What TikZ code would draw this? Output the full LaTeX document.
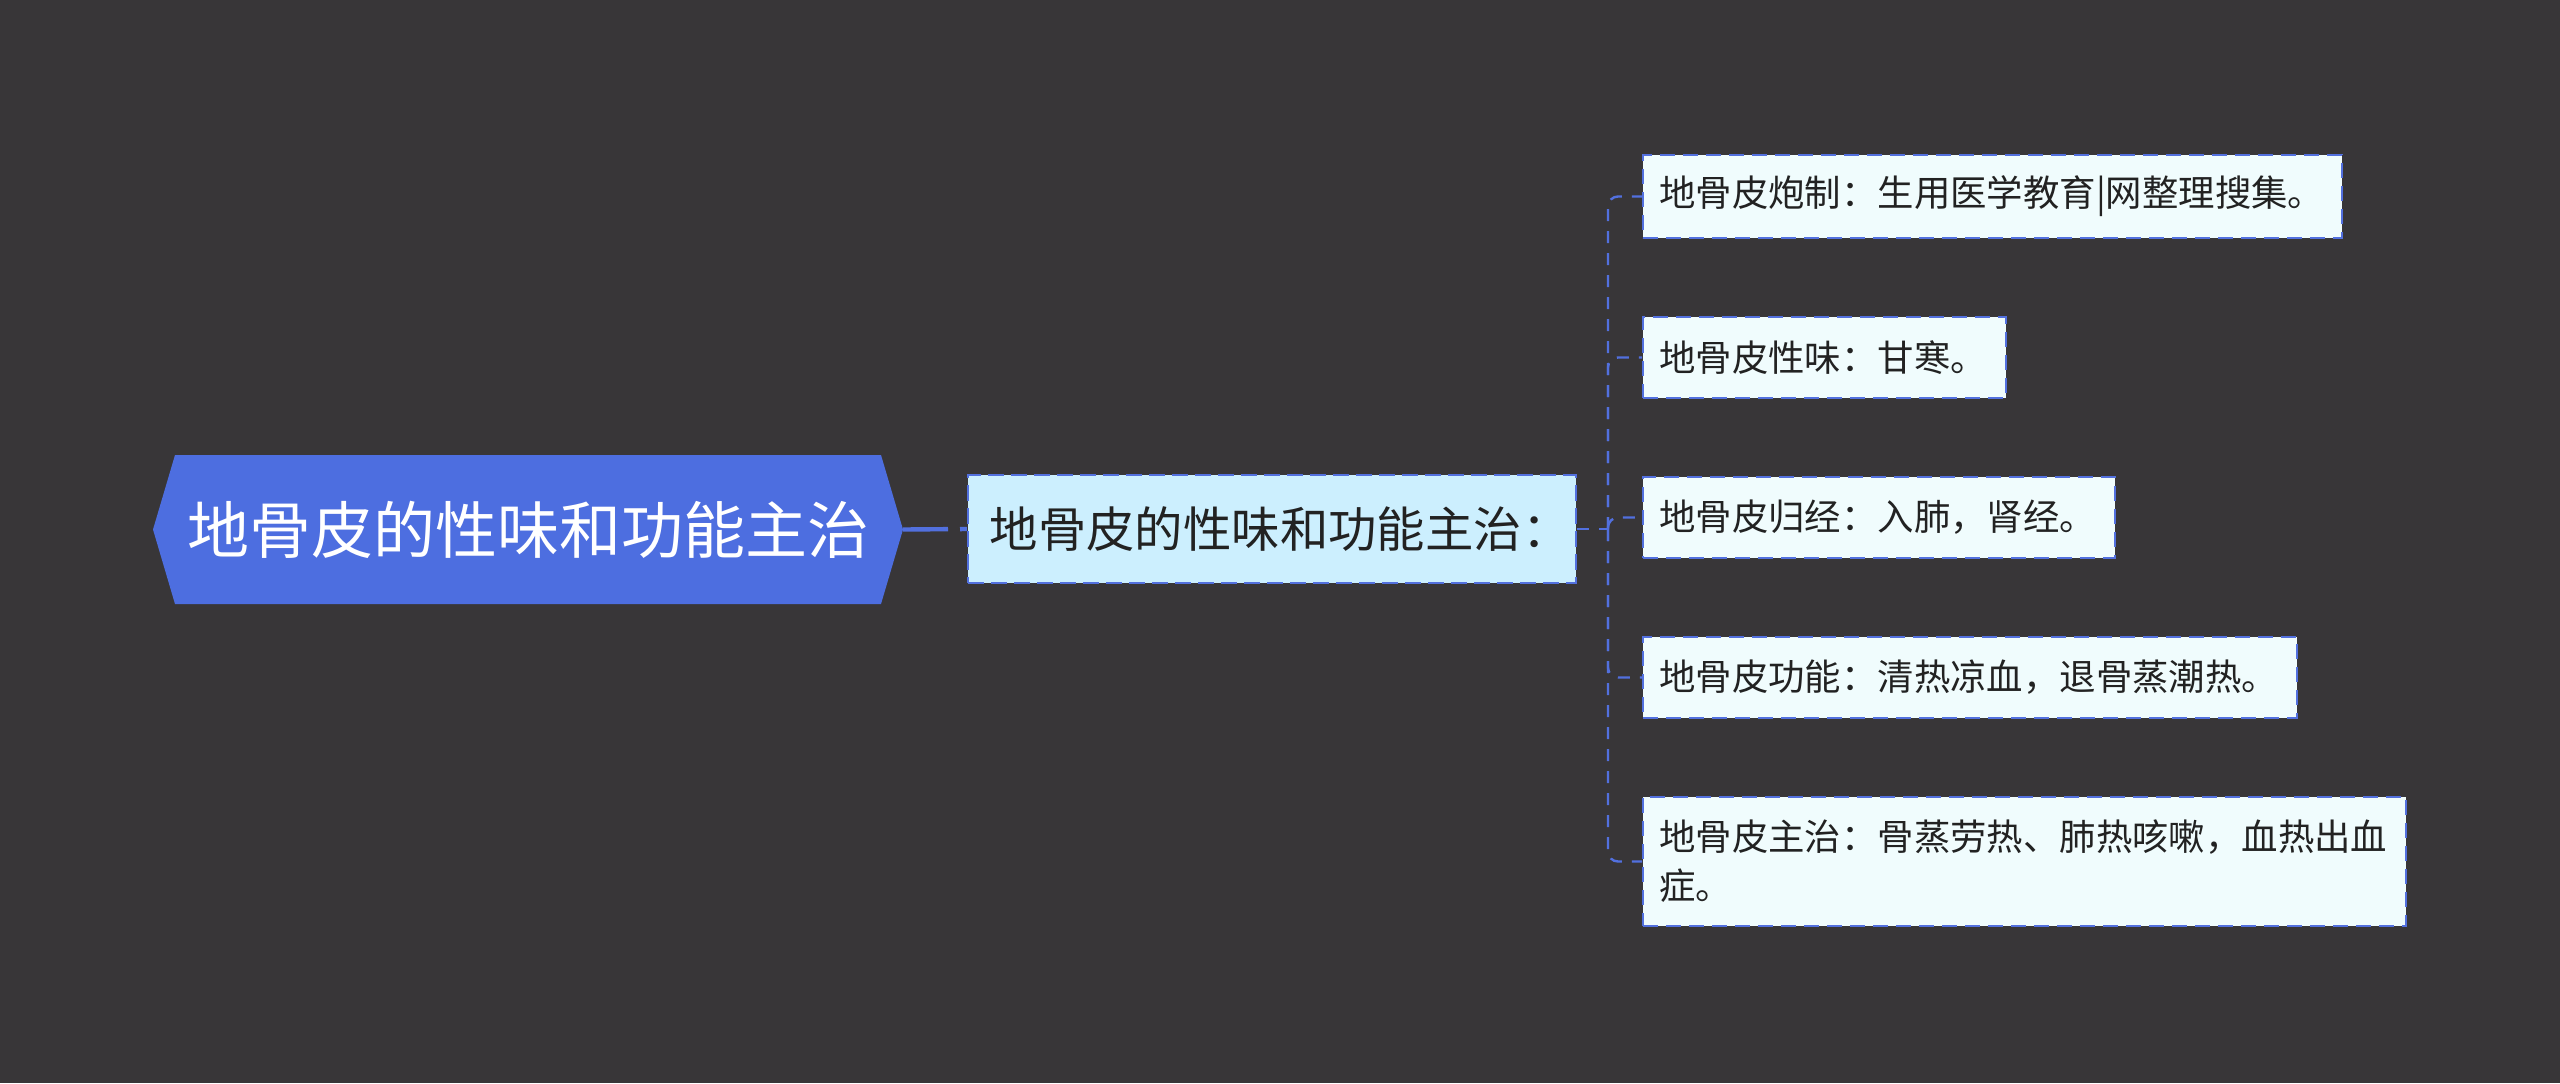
\documentclass[tikz,border=0pt]{standalone}
\usepackage{fontspec}
\setmainfont{Noto Sans CJK SC}
\usetikzlibrary{backgrounds}
\definecolor{bgc}{RGB}{56,54,56}
\definecolor{rootblue}{RGB}{77,110,224}
\definecolor{lineblue}{RGB}{82,112,222}
\definecolor{midfill}{RGB}{204,239,254}
\definecolor{leaffill}{RGB}{240,252,253}
\definecolor{txt}{RGB}{34,34,34}
\begin{document}
\begin{tikzpicture}[x=0.5pt,y=-0.5pt,
  rootnode/.style={inner sep=0pt, text=white, font=\fontsize{31}{36}\selectfont},
  midnode/.style={draw=lineblue, line width=1.2pt, dash pattern=on 8pt off 3.5pt, fill=midfill, text=txt, minimum width=304pt, minimum height=54pt, inner sep=0pt, font=\fontsize{24.2}{29}\selectfont},
  leaf/.style={draw=lineblue, line width=1.2pt, dash pattern=on 7.5pt off 4pt, fill=leaffill, text=txt, anchor=west, align=left, inner xsep=8pt, inner ysep=0pt, font=\fontsize{18.2}{24.5}\selectfont},
  rootline/.style={draw=lineblue, line width=2.2pt, dash pattern=on 22.5pt off 6pt on 6pt off 100pt},
  branch/.style={draw=lineblue, line width=1.2pt, dash pattern=on 6pt off 5pt, rounded corners=5pt}]
\begin{scope}[on background layer]
\fill[bgc] (0,0) rectangle (2560,1083);
\end{scope}
\useasboundingbox (0,0) rectangle (2560,1083);

\node[rootnode] (root) at (528,529.5) {地骨皮的性味和功能主治};
\begin{scope}[on background layer]
\fill[rootblue] ([xshift=-187.5pt]root.center) -- ([xshift=-176.5pt,yshift=37.25pt]root.center) -- ([xshift=176.5pt,yshift=37.25pt]root.center) -- ([xshift=187.5pt]root.center) -- ([xshift=176.5pt,yshift=-37.25pt]root.center) -- ([xshift=-176.5pt,yshift=-37.25pt]root.center) -- cycle;
\end{scope}
\coordinate (rootE) at ([xshift=187.5pt]root.center);

\node[midnode] (mid) at (1272,529) {\hspace*{8pt}地骨皮的性味和功能主治：};

\node[leaf, text width=333.5pt, minimum height=41.5pt] (l1) at (1642,196.5) {地骨皮炮制：生用医学教育|网整理搜集。};
\node[leaf, text width=165.5pt, minimum height=40.5pt] (l2) at (1642,357.5) {地骨皮性味：甘寒。};
\node[leaf, text width=220pt, minimum height=40.5pt] (l3) at (1642,517.5) {地骨皮归经：入肺，肾经。};
\node[leaf, text width=311pt, minimum height=40.5pt] (l4) at (1642,677.5) {地骨皮功能：清热凉血，退骨蒸潮热。};
\node[leaf, text width=365.5pt, minimum height=64.5pt] (l5) at (1642,861.5) {地骨皮主治：骨蒸劳热、肺热咳嗽，血热出血\\症。};

\coordinate (j) at (1608,529);

\draw[rootline] (rootE) -- (mid.west);
\draw[branch] (mid.east) -- (j);
\foreach \n in {l1,l2,l3,l4,l5}{
  \draw[branch] (j) |- (\n.west);
}
\end{tikzpicture}
\end{document}
